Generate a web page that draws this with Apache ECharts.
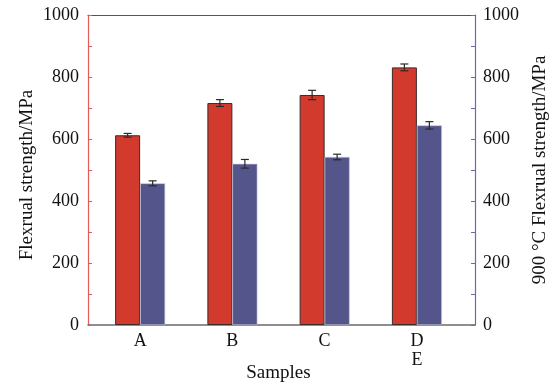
<!DOCTYPE html>
<html>
<head>
<meta charset="utf-8">
<script src="https://cdn.jsdelivr.net/npm/echarts@6/dist/echarts.min.js"></script>
<style>
html,body{margin:0;padding:0;background:#fff;}
#chart{width:558px;height:386px;}
</style>
</head>
<body>
<div id="chart"></div>
<script>
var categories = ['A', 'B', 'C', 'D\nE'];
var roomStrength = [612, 716, 742, 831];
var roomError = [6, 11, 15, 11];
var hotStrength = [457, 520, 542, 644];
var hotError = [8, 14, 9, 12];
var yTicks = [0, 200, 400, 600, 800, 1000];

var FONT = 'Liberation Serif';
var RED = '#D23A2E';
var BLUE = '#54558A';

function errorSeries(vals, errs, offset) {
  var data = vals.map(function (v, i) { return [i, v - errs[i], v + errs[i]]; });
  return {
    type: 'custom',
    xAxisIndex: 2, yAxisIndex: 2,
    z: 10,
    data: data,
    renderItem: function (params, api) {
      var i = api.value(0);
      var lo = api.coord([i, api.value(1)]);
      var hi = api.coord([i, api.value(2)]);
      var x = lo[0] + offset;
      var cw = 4;
      var st = { stroke: '#2a2a2a', lineWidth: 1.2 };
      return {
        type: 'group',
        children: [
          { type: 'line', shape: { x1: x, y1: lo[1], x2: x, y2: hi[1] }, style: st },
          { type: 'line', shape: { x1: x - cw, y1: lo[1], x2: x + cw, y2: lo[1] }, style: st },
          { type: 'line', shape: { x1: x - cw, y1: hi[1], x2: x + cw, y2: hi[1] }, style: st }
        ]
      };
    }
  };
}

function tickFmt(v) { return yTicks.indexOf(v) >= 0 ? String(v) : ''; }

var chart = echarts.init(document.getElementById('chart'));
chart.setOption({
  animation: false,
  backgroundColor: '#ffffff',
  textStyle: { fontFamily: FONT },
  grid: [
    { left: 88, right: 83, top: 15, bottom: 61, containLabel: false, outerBoundsMode: 'none' },
    { left: 94, right: 95, top: 15, bottom: 61, containLabel: false, outerBoundsMode: 'none' }
  ],
  xAxis: [
    { gridIndex: 0, type: 'value', min: 0, max: 1, position: 'bottom',
      axisLine: { show: true, onZero: false, lineStyle: { color: '#6b6b6b', width: 1.5 } },
      axisTick: { show: false }, axisLabel: { show: false }, splitLine: { show: false } },
    { gridIndex: 0, type: 'value', min: 0, max: 1, position: 'top',
      axisLine: { show: true, onZero: false, lineStyle: { color: '#555555', width: 1.2 } },
      axisTick: { show: false }, axisLabel: { show: false }, splitLine: { show: false } },
    { gridIndex: 1, type: 'category', data: categories,
      axisLine: { show: false, onZero: false }, axisTick: { show: false },
      axisLabel: { color: '#111', fontFamily: FONT, fontSize: 18, margin: 7, lineHeight: 19 },
      name: 'Samples', nameLocation: 'middle', nameGap: 39, nameMoveOverlap: false,
      nameTextStyle: { color: '#111', fontFamily: FONT, fontSize: 19 } }
  ],
  yAxis: [
    { gridIndex: 0, type: 'value', position: 'left', min: 0, max: 1000, interval: 200,
      axisLine: { show: true, onZero: false, lineStyle: { color: '#E25A5A', width: 1.2 } },
      axisTick: { show: true, inside: true, length: 4, lineStyle: { color: '#E25A5A' } },
      minorTick: { show: true, splitNumber: 2, length: 4, lineStyle: { color: '#E25A5A' } },
      axisLabel: { color: '#111', fontFamily: FONT, fontSize: 18, margin: 9, formatter: tickFmt },
      splitLine: { show: false },
      name: 'Flexrual strength/MPa', nameLocation: 'middle', nameGap: 51, nameRotate: 90,
      nameMoveOverlap: false,
      nameTextStyle: { color: '#111', fontFamily: FONT, fontSize: 19, padding: [0, 10, 0, 0] } },
    { gridIndex: 0, type: 'value', position: 'right', min: 0, max: 1000, interval: 200,
      axisLine: { show: true, onZero: false, lineStyle: { color: '#6A6AA8', width: 1.2 } },
      axisTick: { show: true, inside: true, length: 4, lineStyle: { color: '#6A6AA8' } },
      minorTick: { show: true, splitNumber: 2, length: 4, lineStyle: { color: '#6A6AA8' } },
      axisLabel: { color: '#111', fontFamily: FONT, fontSize: 18, margin: 8, formatter: tickFmt },
      splitLine: { show: false },
      name: '900 °C Flexrual strength/MPa', nameLocation: 'middle', nameGap: 56, nameRotate: 90,
      nameMoveOverlap: false,
      nameTextStyle: { color: '#111', fontFamily: FONT, fontSize: 19 } },
    { gridIndex: 1, type: 'value', min: 0, max: 1000, show: false }
  ],
  series: [
    { type: 'bar', xAxisIndex: 2, yAxisIndex: 2, data: roomStrength, barWidth: 25, barGap: '0%',
      itemStyle: { color: RED, borderColor: '#3a2a2a', borderWidth: 1 } },
    { type: 'bar', xAxisIndex: 2, yAxisIndex: 2, data: hotStrength, barWidth: 25, barGap: '0%',
      itemStyle: { color: BLUE, borderColor: '#c8c8d8', borderWidth: 0.6 } },
    errorSeries(roomStrength, roomError, -12.5),
    errorSeries(hotStrength, hotError, 12.5)
  ]
});
</script>
</body>
</html>
